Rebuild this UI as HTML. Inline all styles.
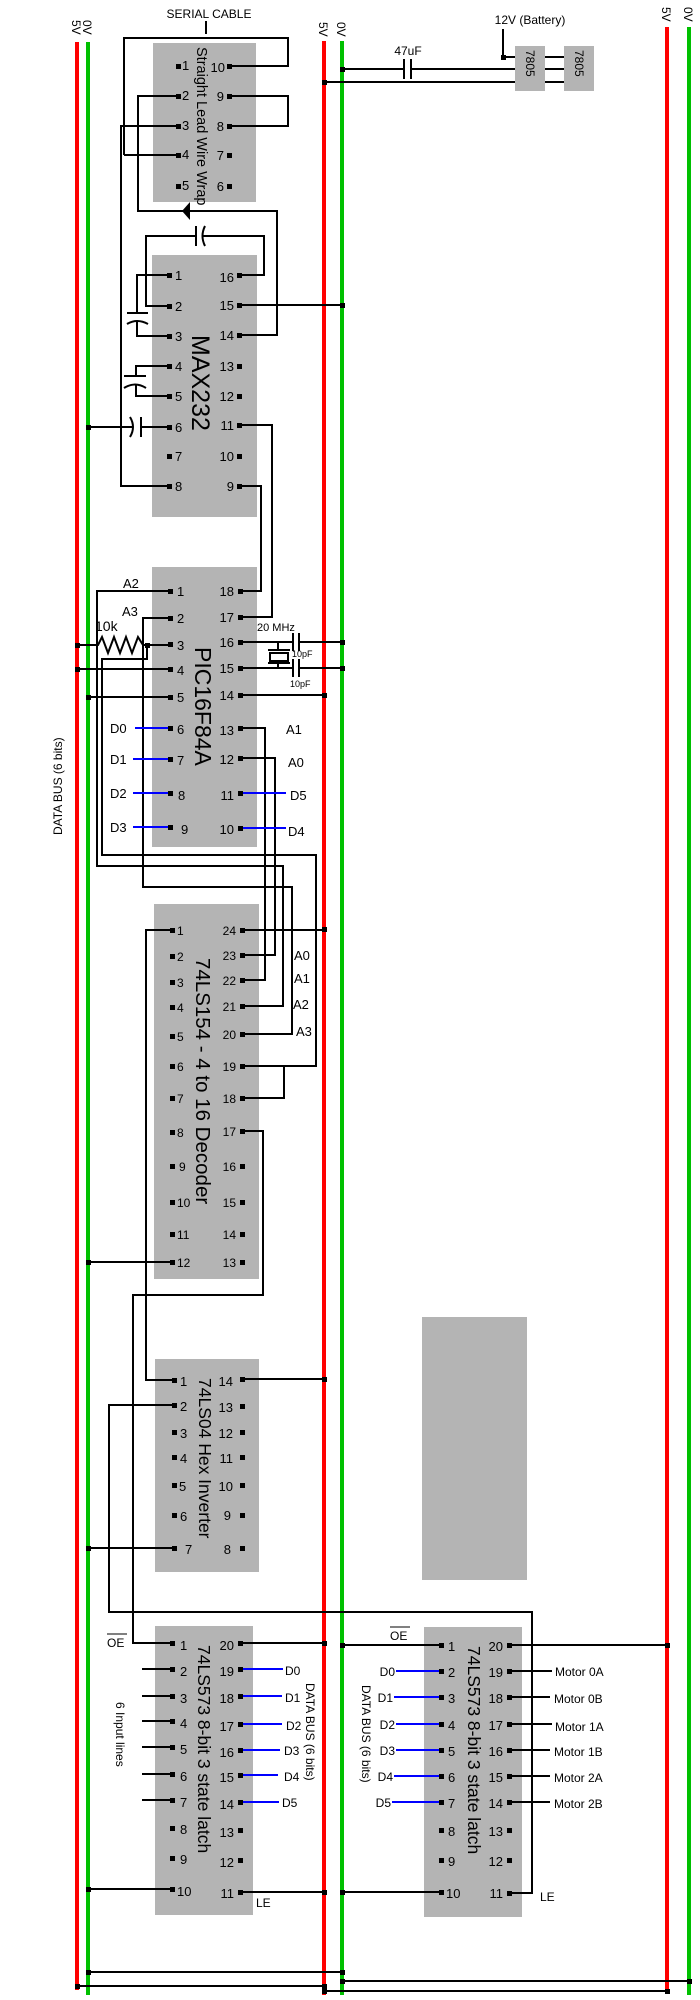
<!DOCTYPE html>
<html><head><meta charset="utf-8"><style>
html,body{margin:0;padding:0;background:#fff;}
svg{display:block;font-family:"Liberation Sans",sans-serif;}
.w{stroke:#000;stroke-width:2;fill:none;}
.b{stroke:#0000ff;stroke-width:2;fill:none;}
.g{fill:#b4b4b4;}
.p{font-size:13px;fill:#000;}
.s{font-size:12px;fill:#000;}
</style></head><body>
<svg width="700" height="2000" viewBox="0 0 700 2000" xmlns="http://www.w3.org/2000/svg">
<!-- chip boxes -->
<rect class="g" x="153" y="43" width="103" height="159"/>
<rect class="g" x="152" y="255" width="105" height="262"/>
<rect class="g" x="152" y="567" width="105" height="280"/>
<rect class="g" x="154" y="904" width="105" height="375"/>
<rect class="g" x="155" y="1359" width="104" height="213"/>
<rect class="g" x="155" y="1626" width="98" height="289"/>
<rect class="g" x="424" y="1627" width="98" height="290"/>
<rect class="g" x="422" y="1317" width="105" height="263"/>
<rect class="g" x="515" y="46" width="30" height="45"/>
<rect class="g" x="564" y="46" width="30" height="45"/>

<!-- rails -->
<line x1="77" y1="42" x2="77" y2="1990" stroke="#ff0000" stroke-width="4"/>
<line x1="88" y1="42" x2="88" y2="1995" stroke="#00c000" stroke-width="4"/>
<line x1="324" y1="41" x2="324" y2="1995" stroke="#ff0000" stroke-width="4"/>
<line x1="342" y1="41" x2="342" y2="1995" stroke="#00c000" stroke-width="4"/>
<line x1="667" y1="27" x2="667" y2="1993" stroke="#ff0000" stroke-width="4"/>
<line x1="689" y1="27" x2="689" y2="1995" stroke="#00c000" stroke-width="4"/>

<g class="s">
<text transform="translate(72,20) rotate(90)">5V</text>
<text transform="translate(83,20) rotate(90)">0V</text>
<text transform="translate(319,22) rotate(90)">5V</text>
<text transform="translate(337,22) rotate(90)">0V</text>
<text transform="translate(662,7) rotate(90)">5V</text>
<text transform="translate(684,7) rotate(90)">0V</text>
</g>

<!-- wires -->
<g class="w">
<line x1="206" y1="21" x2="206" y2="34"/>
<polyline points="124,155 124,38 288,38 288,66 229,66"/>
<polyline points="229,96 288,96 288,126 229,126"/>
<polyline points="178,126 121,126 121,486 169,486"/>
<polyline points="178,96 138,96 138,211 277,211 277,335 239,335"/>
<line x1="124" y1="155" x2="178" y2="155"/>
<!-- MAX caps -->
<polyline points="169,306 146,306 146,236 196,236"/>
<line x1="196" y1="226" x2="196" y2="246"/>
<path d="M205,226 Q200,236 205,246"/>
<polyline points="202,236 264,236 264,275 239,275"/>
<polyline points="169,275 137,275 137,313"/>
<line x1="127" y1="313" x2="148" y2="313"/>
<path d="M127,324 Q137,318 148,324"/>
<polyline points="137,321 137,336 169,336"/>
<polyline points="169,366 136,366 136,376"/>
<line x1="124" y1="376" x2="146" y2="376"/>
<path d="M124,388 Q135,381 146,388"/>
<polyline points="136,384 136,396 169,396"/>
<polyline points="88,427 133,427"/>
<path d="M130,417 Q136,427 130,437"/>
<line x1="141" y1="417" x2="141" y2="437"/>
<line x1="141" y1="427" x2="169" y2="427"/>
<line x1="239" y1="305" x2="342" y2="305"/>
<polyline points="239,425 272,425 272,617 240,617"/>
<polyline points="239,486 261,486 261,591 240,591"/>
<!-- power -->
<line x1="342" y1="69" x2="404" y2="69"/>
<line x1="404" y1="59" x2="404" y2="79"/>
<line x1="411" y1="59" x2="411" y2="79"/>
<line x1="411" y1="69" x2="515" y2="69"/>
<line x1="324" y1="82" x2="515" y2="82"/>
<polyline points="503,29 503,57 515,57"/>
<line x1="545" y1="57" x2="564" y2="57"/>
<line x1="545" y1="69" x2="564" y2="69"/>
<line x1="545" y1="82" x2="564" y2="82"/>
<!-- PIC -->
<polyline points="170,591 97,591 97,866 283,866 283,1006 242,1006"/>
<polyline points="170,618 143,618 143,887 292,887 292,1034 242,1034"/>
<polyline points="77,645 98,645 102,637 108,653 114,637 120,653 126,637 132,653 138,637 143,645 170,645"/>
<polyline points="147,645 147,659 102,659 102,855 316,855 316,1066 242,1066"/>
<line x1="77" y1="669" x2="170" y2="669"/>
<line x1="88" y1="697" x2="170" y2="697"/>
<line x1="240" y1="695" x2="324" y2="695"/>
<line x1="240" y1="642" x2="293" y2="642"/>
<line x1="293" y1="633" x2="293" y2="651"/>
<line x1="299" y1="633" x2="299" y2="651"/>
<line x1="299" y1="642" x2="342" y2="642"/>
<line x1="240" y1="668" x2="293" y2="668"/>
<line x1="293" y1="659" x2="293" y2="677"/>
<line x1="299" y1="659" x2="299" y2="677"/>
<line x1="299" y1="668" x2="342" y2="668"/>
<line x1="278" y1="642" x2="278" y2="650"/>
<line x1="268" y1="650" x2="290" y2="650"/>
<rect x="270" y="653" width="18" height="8"/>
<line x1="268" y1="663" x2="290" y2="663"/>
<line x1="278" y1="663" x2="278" y2="668"/>
<polyline points="240,728 265,728 265,980 242,980"/>
<polyline points="240,758 275,758 275,955 242,955"/>
<!-- 154 -->
<line x1="242" y1="930" x2="324" y2="930"/>
<polyline points="242,1098 284,1098 284,1066"/>
<polyline points="242,1131 263,1131 263,1295 133,1295 133,1643 172,1643"/>
<polyline points="172,930 146,930 146,1380 174,1380"/>
<line x1="88" y1="1262" x2="172" y2="1262"/>
<!-- 04 -->
<line x1="242" y1="1379" x2="324" y2="1379"/>
<polyline points="174,1405 109,1405 109,1612 532,1612 532,1893 509,1893"/>
<line x1="88" y1="1548" x2="174" y2="1548"/>
<!-- 573 L -->
<line x1="240" y1="1643" x2="324" y2="1643"/>
<line x1="142" y1="1669" x2="172" y2="1669"/>
<line x1="142" y1="1696" x2="172" y2="1696"/>
<line x1="142" y1="1721" x2="172" y2="1721"/>
<line x1="142" y1="1747" x2="172" y2="1747"/>
<line x1="142" y1="1774" x2="172" y2="1774"/>
<line x1="142" y1="1800" x2="172" y2="1800"/>
<line x1="88" y1="1889" x2="172" y2="1889"/>
<line x1="240" y1="1892" x2="324" y2="1892"/>
<!-- 573 R -->
<line x1="342" y1="1645" x2="441" y2="1645"/>
<line x1="509" y1="1645" x2="667" y2="1645"/>
<line x1="342" y1="1892" x2="441" y2="1892"/>
<line x1="509" y1="1671" x2="552" y2="1671"/>
<line x1="509" y1="1697" x2="550" y2="1697"/>
<line x1="509" y1="1724" x2="552" y2="1724"/>
<line x1="509" y1="1750" x2="550" y2="1750"/>
<line x1="509" y1="1776" x2="550" y2="1776"/>
<line x1="509" y1="1802" x2="550" y2="1802"/>
<!-- bottom -->
<line x1="88" y1="1972" x2="342" y2="1972"/>
<line x1="342" y1="1981" x2="689" y2="1981"/>
<line x1="77" y1="1986" x2="324" y2="1986"/>
<line x1="324" y1="1991" x2="667" y2="1991"/>
</g>
<polygon points="182,211 190,202 190,220" fill="#000"/>

<!-- blue data lines -->
<g class="b">
<line x1="135" y1="728" x2="170" y2="728"/>
<line x1="133" y1="759" x2="170" y2="759"/>
<line x1="133" y1="793" x2="170" y2="793"/>
<line x1="133" y1="827" x2="170" y2="827"/>
<line x1="240" y1="793" x2="286" y2="793"/>
<line x1="240" y1="828" x2="286" y2="828"/>
<line x1="240" y1="1669" x2="283" y2="1669"/>
<line x1="240" y1="1696" x2="282" y2="1696"/>
<line x1="240" y1="1724" x2="282" y2="1724"/>
<line x1="240" y1="1750" x2="280" y2="1750"/>
<line x1="240" y1="1775" x2="278" y2="1775"/>
<line x1="240" y1="1802" x2="279" y2="1802"/>
<line x1="396" y1="1671" x2="441" y2="1671"/>
<line x1="394" y1="1697" x2="441" y2="1697"/>
<line x1="396" y1="1724" x2="441" y2="1724"/>
<line x1="396" y1="1750" x2="441" y2="1750"/>
<line x1="394" y1="1776" x2="441" y2="1776"/>
<line x1="392" y1="1802" x2="441" y2="1802"/>
</g>

<!-- pin squares & junctions -->
<g fill="#000">
<rect x="176" y="64" width="5" height="5"/><rect x="176" y="94" width="5" height="5"/><rect x="176" y="124" width="5" height="5"/><rect x="176" y="153" width="5" height="5"/><rect x="176" y="184" width="5" height="5"/>
<rect x="227" y="64" width="5" height="5"/><rect x="227" y="94" width="5" height="5"/><rect x="227" y="124" width="5" height="5"/><rect x="227" y="153" width="5" height="5"/><rect x="227" y="184" width="5" height="5"/>
<rect x="167" y="273" width="5" height="5"/><rect x="167" y="304" width="5" height="5"/><rect x="167" y="334" width="5" height="5"/><rect x="167" y="364" width="5" height="5"/><rect x="167" y="394" width="5" height="5"/><rect x="167" y="425" width="5" height="5"/><rect x="167" y="454" width="5" height="5"/><rect x="167" y="484" width="5" height="5"/>
<rect x="237" y="273" width="5" height="5"/><rect x="237" y="303" width="5" height="5"/><rect x="237" y="333" width="5" height="5"/><rect x="237" y="364" width="5" height="5"/><rect x="237" y="394" width="5" height="5"/><rect x="237" y="423" width="5" height="5"/><rect x="237" y="454" width="5" height="5"/><rect x="237" y="484" width="5" height="5"/>
<rect x="168" y="589" width="5" height="5"/><rect x="168" y="616" width="5" height="5"/><rect x="168" y="642" width="5" height="5"/><rect x="168" y="667" width="5" height="5"/><rect x="168" y="695" width="5" height="5"/><rect x="168" y="726" width="5" height="5"/><rect x="168" y="757" width="5" height="5"/><rect x="168" y="791" width="5" height="5"/><rect x="168" y="825" width="5" height="5"/>
<rect x="238" y="589" width="5" height="5"/><rect x="238" y="615" width="5" height="5"/><rect x="238" y="640" width="5" height="5"/><rect x="238" y="666" width="5" height="5"/><rect x="238" y="693" width="5" height="5"/><rect x="238" y="726" width="5" height="5"/><rect x="238" y="756" width="5" height="5"/><rect x="238" y="791" width="5" height="5"/><rect x="238" y="826" width="5" height="5"/>
<rect x="170" y="928" width="5" height="5"/><rect x="170" y="954" width="5" height="5"/><rect x="170" y="980" width="5" height="5"/><rect x="170" y="1005" width="5" height="5"/><rect x="170" y="1034" width="5" height="5"/><rect x="170" y="1064" width="5" height="5"/><rect x="170" y="1096" width="5" height="5"/><rect x="170" y="1130" width="5" height="5"/><rect x="170" y="1164" width="5" height="5"/><rect x="170" y="1200" width="5" height="5"/><rect x="170" y="1232" width="5" height="5"/><rect x="170" y="1260" width="5" height="5"/>
<rect x="240" y="928" width="5" height="5"/><rect x="240" y="953" width="5" height="5"/><rect x="240" y="978" width="5" height="5"/><rect x="240" y="1004" width="5" height="5"/><rect x="240" y="1032" width="5" height="5"/><rect x="240" y="1064" width="5" height="5"/><rect x="240" y="1096" width="5" height="5"/><rect x="240" y="1129" width="5" height="5"/><rect x="240" y="1164" width="5" height="5"/><rect x="240" y="1200" width="5" height="5"/><rect x="240" y="1232" width="5" height="5"/><rect x="240" y="1260" width="5" height="5"/>
<rect x="172" y="1378" width="5" height="5"/><rect x="172" y="1403" width="5" height="5"/><rect x="172" y="1430" width="5" height="5"/><rect x="172" y="1455" width="5" height="5"/><rect x="172" y="1483" width="5" height="5"/><rect x="172" y="1513" width="5" height="5"/><rect x="172" y="1546" width="5" height="5"/>
<rect x="240" y="1377" width="5" height="5"/><rect x="240" y="1404" width="5" height="5"/><rect x="240" y="1430" width="5" height="5"/><rect x="240" y="1455" width="5" height="5"/><rect x="240" y="1483" width="5" height="5"/><rect x="240" y="1513" width="5" height="5"/><rect x="240" y="1546" width="5" height="5"/>
<rect x="170" y="1641" width="5" height="5"/><rect x="170" y="1667" width="5" height="5"/><rect x="170" y="1694" width="5" height="5"/><rect x="170" y="1719" width="5" height="5"/><rect x="170" y="1745" width="5" height="5"/><rect x="170" y="1772" width="5" height="5"/><rect x="170" y="1798" width="5" height="5"/><rect x="170" y="1826" width="5" height="5"/><rect x="170" y="1856" width="5" height="5"/><rect x="170" y="1887" width="5" height="5"/>
<rect x="238" y="1641" width="5" height="5"/><rect x="238" y="1667" width="5" height="5"/><rect x="238" y="1694" width="5" height="5"/><rect x="238" y="1722" width="5" height="5"/><rect x="238" y="1748" width="5" height="5"/><rect x="238" y="1773" width="5" height="5"/><rect x="238" y="1800" width="5" height="5"/><rect x="238" y="1828" width="5" height="5"/><rect x="238" y="1858" width="5" height="5"/><rect x="238" y="1890" width="5" height="5"/>
<rect x="439" y="1643" width="5" height="5"/><rect x="439" y="1669" width="5" height="5"/><rect x="439" y="1695" width="5" height="5"/><rect x="439" y="1722" width="5" height="5"/><rect x="439" y="1748" width="5" height="5"/><rect x="439" y="1774" width="5" height="5"/><rect x="439" y="1800" width="5" height="5"/><rect x="439" y="1828" width="5" height="5"/><rect x="439" y="1858" width="5" height="5"/><rect x="439" y="1890" width="5" height="5"/>
<rect x="507" y="1643" width="5" height="5"/><rect x="507" y="1669" width="5" height="5"/><rect x="507" y="1695" width="5" height="5"/><rect x="507" y="1722" width="5" height="5"/><rect x="507" y="1748" width="5" height="5"/><rect x="507" y="1774" width="5" height="5"/><rect x="507" y="1800" width="5" height="5"/><rect x="507" y="1828" width="5" height="5"/><rect x="507" y="1858" width="5" height="5"/><rect x="507" y="1891" width="5" height="5"/>
<!-- junctions -->
<rect x="340" y="67" width="5" height="5"/><rect x="322" y="80" width="5" height="5"/><rect x="501" y="55" width="5" height="5"/>
<rect x="340" y="303" width="5" height="5"/><rect x="86" y="425" width="5" height="5"/>
<rect x="75" y="643" width="5" height="5"/><rect x="145" y="643" width="5" height="5"/><rect x="75" y="667" width="5" height="5"/><rect x="86" y="695" width="5" height="5"/>
<rect x="340" y="640" width="5" height="5"/><rect x="340" y="666" width="5" height="5"/><rect x="322" y="693" width="5" height="5"/>
<rect x="322" y="927" width="5" height="5"/><rect x="86" y="1260" width="5" height="5"/><rect x="322" y="1377" width="5" height="5"/><rect x="86" y="1546" width="5" height="5"/>
<rect x="322" y="1641" width="5" height="5"/><rect x="340" y="1643" width="5" height="5"/><rect x="665" y="1643" width="5" height="5"/>
<rect x="86" y="1887" width="5" height="5"/><rect x="322" y="1890" width="5" height="5"/><rect x="340" y="1890" width="5" height="5"/>
<rect x="86" y="1970" width="5" height="5"/><rect x="340" y="1970" width="5" height="5"/><rect x="340" y="1979" width="5" height="5"/><rect x="687" y="1979" width="5" height="5"/>
<rect x="75" y="1984" width="5" height="5"/><rect x="322" y="1984" width="5" height="5"/><rect x="322" y="1989" width="5" height="5"/><rect x="665" y="1989" width="5" height="5"/>
</g>

<!-- chip titles -->
<text transform="translate(197,47) rotate(90)" font-size="14.5">Straight Lead Wire Wrap</text>
<text transform="translate(192,335) rotate(90)" font-size="25">MAX232</text>
<text transform="translate(195,647) rotate(90)" font-size="23">PIC16F84A</text>
<text transform="translate(196,958) rotate(90)" font-size="20.5">74LS154 - 4 to 16 Decoder</text>
<text transform="translate(199,1378) rotate(90)" font-size="17.5">74LS04 Hex Inverter</text>
<text transform="translate(198,1645) rotate(90)" font-size="17.5">74LS573 8-bit 3 state latch</text>
<text transform="translate(468,1646) rotate(90)" font-size="17.5">74LS573 8-bit 3 state latch</text>
<text transform="translate(526,50) rotate(90)" font-size="12">7805</text>
<text transform="translate(575,50) rotate(90)" font-size="12">7805</text>

<!-- pin labels -->
<g class="p">
<text x="182" y="70">1</text><text x="182" y="100">2</text><text x="182" y="130">3</text><text x="182" y="159">4</text><text x="182" y="190">5</text>
<g text-anchor="end"><text x="225" y="72">10</text><text x="224" y="101">9</text><text x="224" y="131">8</text><text x="224" y="160">7</text><text x="224" y="191">6</text></g>
<text x="175" y="280">1</text><text x="175" y="311">2</text><text x="175" y="341">3</text><text x="175" y="371">4</text><text x="175" y="401">5</text><text x="175" y="432">6</text><text x="175" y="461">7</text><text x="175" y="491">8</text>
<g text-anchor="end"><text x="234" y="282">16</text><text x="234" y="310">15</text><text x="234" y="340">14</text><text x="234" y="371">13</text><text x="234" y="401">12</text><text x="234" y="430">11</text><text x="234" y="461">10</text><text x="234" y="491">9</text></g>
<text x="177" y="596">1</text><text x="177" y="623">2</text><text x="177" y="650">3</text><text x="177" y="675">4</text><text x="177" y="702">5</text><text x="177" y="734">6</text><text x="177" y="765">7</text><text x="178" y="800">8</text><text x="181" y="834">9</text>
<g text-anchor="end"><text x="234" y="596">18</text><text x="234" y="622">17</text><text x="234" y="647">16</text><text x="234" y="673">15</text><text x="234" y="700">14</text><text x="234" y="735">13</text><text x="234" y="764">12</text><text x="234" y="800">11</text><text x="234" y="834">10</text></g>
<g font-size="12"><text x="177" y="935">1</text><text x="177" y="961">2</text><text x="177" y="987">3</text><text x="177" y="1012">4</text><text x="177" y="1041">5</text><text x="177" y="1071">6</text><text x="177" y="1103">7</text><text x="177" y="1137">8</text><text x="179" y="1171">9</text><text x="177" y="1207">10</text><text x="177" y="1239">11</text><text x="177" y="1267">12</text>
<g text-anchor="end"><text x="236" y="935">24</text><text x="236" y="960">23</text><text x="236" y="985">22</text><text x="236" y="1011">21</text><text x="236" y="1039">20</text><text x="236" y="1071">19</text><text x="236" y="1103">18</text><text x="236" y="1136">17</text><text x="236" y="1171">16</text><text x="236" y="1207">15</text><text x="236" y="1239">14</text><text x="236" y="1267">13</text></g></g>
<text x="180" y="1386">1</text><text x="180" y="1411">2</text><text x="180" y="1438">3</text><text x="180" y="1463">4</text><text x="179" y="1491">5</text><text x="180" y="1521">6</text><text x="185" y="1554">7</text>
<g text-anchor="end"><text x="233" y="1386">14</text><text x="233" y="1412">13</text><text x="233" y="1438">12</text><text x="233" y="1463">11</text><text x="233" y="1491">10</text><text x="231" y="1520">9</text><text x="231" y="1554">8</text></g>
<text x="180" y="1650">1</text><text x="180" y="1676">2</text><text x="180" y="1703">3</text><text x="180" y="1728">4</text><text x="180" y="1754">5</text><text x="180" y="1781">6</text><text x="180" y="1807">7</text><text x="180" y="1834">8</text><text x="180" y="1864">9</text><text x="177" y="1896">10</text>
<g text-anchor="end"><text x="234" y="1650">20</text><text x="234" y="1676">19</text><text x="234" y="1703">18</text><text x="234" y="1731">17</text><text x="234" y="1757">16</text><text x="234" y="1782">15</text><text x="234" y="1809">14</text><text x="234" y="1837">13</text><text x="234" y="1867">12</text><text x="234" y="1898">11</text></g>
<text x="448" y="1651">1</text><text x="448" y="1677">2</text><text x="448" y="1703">3</text><text x="448" y="1730">4</text><text x="448" y="1756">5</text><text x="448" y="1782">6</text><text x="448" y="1808">7</text><text x="448" y="1836">8</text><text x="448" y="1866">9</text><text x="446" y="1898">10</text>
<g text-anchor="end"><text x="503" y="1651">20</text><text x="503" y="1677">19</text><text x="503" y="1703">18</text><text x="503" y="1730">17</text><text x="503" y="1756">16</text><text x="503" y="1782">15</text><text x="503" y="1808">14</text><text x="503" y="1836">13</text><text x="503" y="1866">12</text><text x="503" y="1898">11</text></g>
</g>

<!-- other labels -->
<g font-size="13">
<text x="209" y="18" text-anchor="middle" font-size="12">SERIAL CABLE</text>
<text x="530" y="24" text-anchor="middle" font-size="12">12V (Battery)</text>
<text x="408" y="55" text-anchor="middle" font-size="12">47uF</text>
<text x="123" y="588">A2</text><text x="122" y="616">A3</text><text x="95" y="631" font-size="14">10k</text>
<text x="110" y="733">D0</text><text x="110" y="764">D1</text><text x="110" y="798">D2</text><text x="110" y="832">D3</text>
<text x="286" y="734">A1</text><text x="288" y="767">A0</text>
<text x="290" y="800">D5</text><text x="288" y="836">D4</text>
<text x="257" y="631" font-size="11">20 MHz</text>
<text x="292" y="657" font-size="9">10pF</text>
<text x="290" y="687" font-size="9">10pF</text>
<text x="294" y="960">A0</text><text x="294" y="983">A1</text><text x="293" y="1009">A2</text><text x="296" y="1036">A3</text>
<text x="285" y="1675" font-size="12">D0</text><text x="285" y="1702" font-size="12">D1</text><text x="286" y="1730" font-size="12">D2</text><text x="284" y="1755" font-size="12">D3</text><text x="284" y="1781" font-size="12">D4</text><text x="282" y="1807" font-size="12">D5</text>
<g text-anchor="end" font-size="12"><text x="395" y="1676">D0</text><text x="393" y="1702">D1</text><text x="395" y="1729">D2</text><text x="395" y="1755">D3</text><text x="393" y="1781">D4</text><text x="391" y="1807">D5</text></g>
<g font-size="12"><text x="555" y="1676">Motor 0A</text><text x="554" y="1703">Motor 0B</text><text x="555" y="1731">Motor 1A</text><text x="554" y="1756">Motor 1B</text><text x="554" y="1782">Motor 2A</text><text x="554" y="1808">Motor 2B</text></g>
<text x="256" y="1907" font-size="12">LE</text><text x="540" y="1901" font-size="12">LE</text>
<text x="107" y="1647" font-size="12">OE</text><line x1="107" y1="1634" x2="127" y2="1634" stroke="#000"/>
<text x="390" y="1640" font-size="12">OE</text><line x1="390" y1="1627" x2="410" y2="1627" stroke="#000"/>
<text transform="translate(62,835) rotate(-90)" font-size="12">DATA BUS (6 bits)</text>
<text transform="translate(306,1683) rotate(90)" font-size="12">DATA BUS (6 bits)</text>
<text transform="translate(362,1685) rotate(90)" font-size="12">DATA BUS (6 bits)</text>
<text transform="translate(116,1702) rotate(90)" font-size="12">6 Input lines</text>
</g>
</svg>
</body></html>
